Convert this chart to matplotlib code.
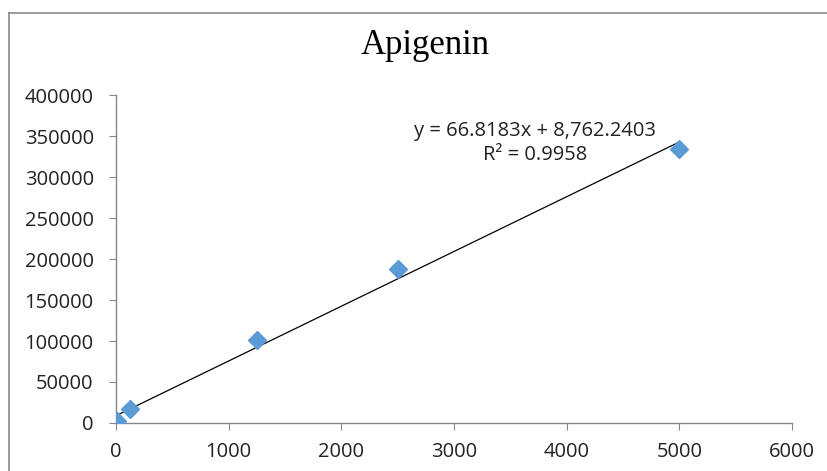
import matplotlib
matplotlib.use('Agg')
import matplotlib.pyplot as plt
from matplotlib.lines import Line2D

# calibration points (concentration vs peak area)
conc = [1.25, 12.5, 125, 1250, 2500, 5000]
area = [500, 2500, 17000, 101000, 188000, 334000]

slope = 66.8183
intercept = 8762.2403
fit_x = [0, 5000]
fit_y = [slope * v + intercept for v in fit_x]

xticks = [0, 1000, 2000, 3000, 4000, 5000, 6000]
yticks = [0, 50000, 100000, 150000, 200000, 250000, 300000, 350000, 400000]

fig = plt.figure(figsize=(8.28, 4.71), dpi=100)
ax = fig.add_axes([0.140, 0.102, 0.8165, 0.696])

ax.plot(fit_x, fit_y, color='black', linewidth=0.9, zorder=2)
ax.plot(conc, area, linestyle='none', marker='D', markersize=9,
        color='#5B9BD5', markeredgecolor='#5B9BD5', zorder=3)

ax.set_xlim(0, 6000)
ax.set_ylim(0, 400000)
ax.set_xticks(xticks)
ax.set_yticks(yticks)
ax.set_xticklabels([str(v) for v in xticks])
ax.set_yticklabels([str(v) for v in yticks])

for s in ['top', 'right']:
    ax.spines[s].set_visible(False)
for s in ['left', 'bottom']:
    ax.spines[s].set_color('#868686')
    ax.spines[s].set_linewidth(1)
ax.tick_params(axis='both', direction='out', length=5, color='#868686',
               labelsize=14.5, labelcolor='#222222')
ax.tick_params(axis='x', pad=9)
ax.tick_params(axis='y', pad=11)
for lab in ax.get_xticklabels() + ax.get_yticklabels():
    lab.set_fontfamily('Open Sans')

fig.text(0.514, 0.903, 'Apigenin', family='Liberation Serif', fontsize=25,
         ha='center', va='center', color='black')
fig.text(0.646, 0.722, 'y = 66.8183x + 8,762.2403', family='Open Sans',
         fontsize=14.5, ha='center', va='center', color='#222222')
fig.text(0.646, 0.671, 'R² = 0.9958', family='Open Sans',
         fontsize=14.5, ha='center', va='center', color='#222222')

# outer chart frame (cropped at right and bottom)
fig.add_artist(Line2D([9/828, 9/828], [0, 1 - 13/471], transform=fig.transFigure,
                      color='#8a8a8a', linewidth=1.2))
fig.add_artist(Line2D([9/828, 1], [1 - 13/471, 1 - 13/471], transform=fig.transFigure,
                      color='#8a8a8a', linewidth=1.2))

fig.savefig('out.png', dpi=100)
